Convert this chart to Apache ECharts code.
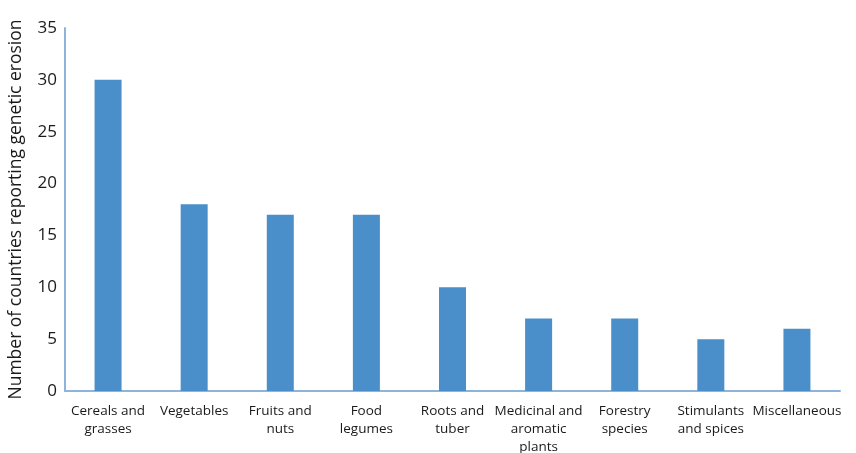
<!DOCTYPE html>
<html><head><meta charset="utf-8">
<script src="https://cdn.jsdelivr.net/npm/echarts@6/dist/echarts.min.js"></script>
<style>html,body{margin:0;padding:0;background:#fff}#c{width:856px;height:453px}</style>
</head><body><div id="c"></div>
<script>
var categories = ["Cereals and\ngrasses","Vegetables","Fruits and\nnuts","Food\nlegumes","Roots and\ntuber","Medicinal and\naromatic\nplants","Forestry\nspecies","Stimulants\nand spices","Miscellaneous"];
var values = [30,18,17,17,10,7,7,5,6];
var yTicks = {min:0,max:35,interval:5};
var chart = echarts.init(document.getElementById('c'));
var font = "Open Sans";
chart.setOption({
  animation:false,
  grid:{left:65,right:16,top:28,bottom:62,containLabel:false,outerBoundsMode:'none'},
  xAxis:{type:'category',data:categories,
    axisLine:{lineStyle:{color:'#8fb4dc',width:2}},
    axisTick:{show:false},
    axisLabel:{interval:0,color:'#1a1a1a',fontFamily:font,fontSize:13.5,lineHeight:18,margin:11}},
  yAxis:{type:'value',min:yTicks.min,max:yTicks.max,interval:yTicks.interval,
    name:'Number of countries reporting genetic erosion',nameLocation:'middle',nameGap:40,
    nameTextStyle:{color:'#1a1a1a',fontFamily:font,fontSize:17.5},
    axisLine:{show:true,lineStyle:{color:'#8fb4dc',width:2}},
    axisTick:{show:false},splitLine:{show:false},
    axisLabel:{color:'#1a1a1a',fontFamily:font,fontSize:17,margin:8}},
  series:[{type:'bar',data:values,barWidth:27,itemStyle:{color:'#4a8fc9'}}]
});
</script></body></html>
